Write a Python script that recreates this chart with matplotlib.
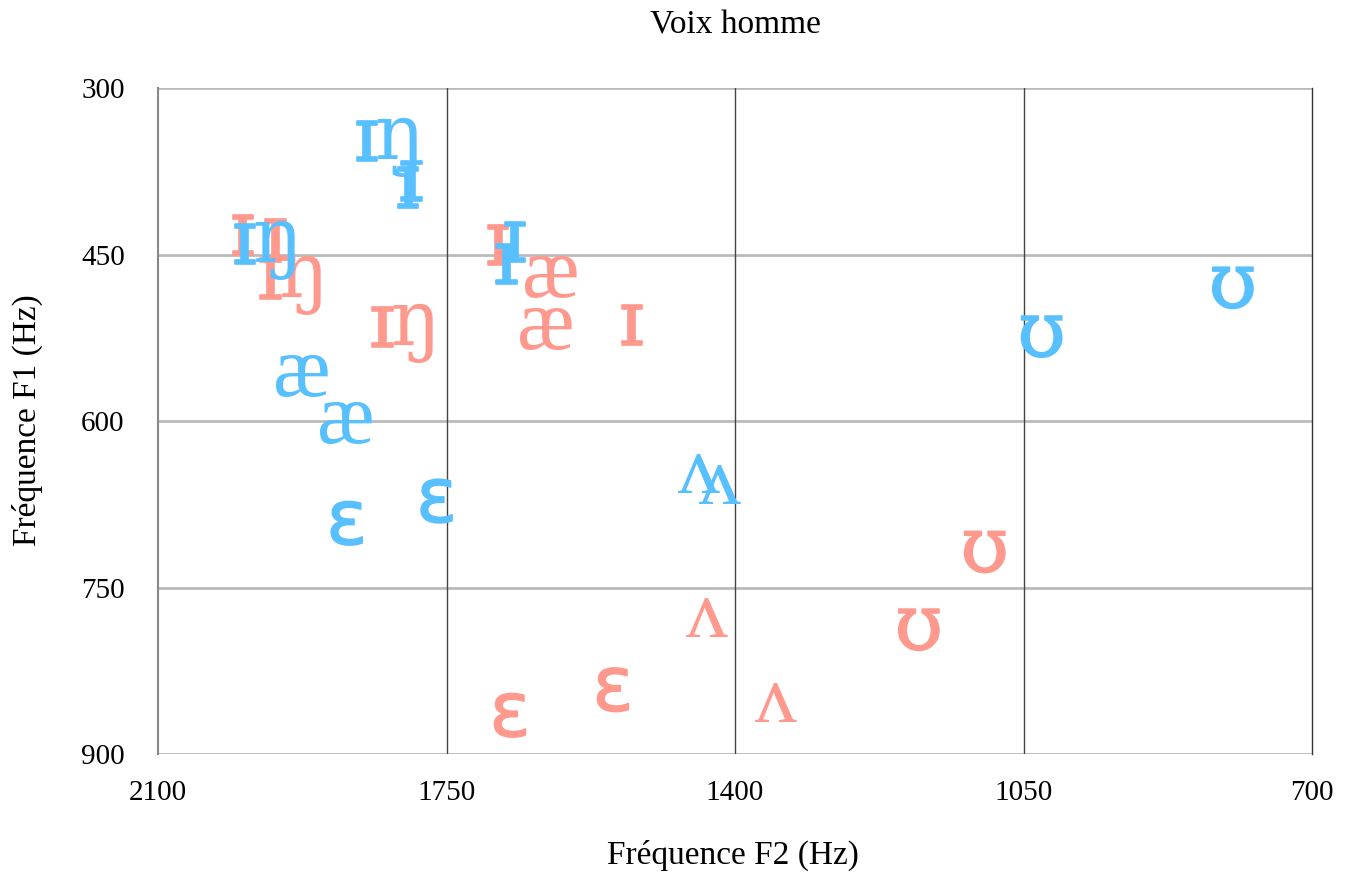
import matplotlib
matplotlib.use("Agg")
import matplotlib.pyplot as plt
import matplotlib.patheffects as pe

plt.rcParams['font.family'] = ['Liberation Serif', 'DejaVu Serif']

# voyelles, voix homme : F2 (x) et F1 (y)
salmon_labels = ["ɪ", "ɪ", "ɪŋ", "ɪŋ", "ɪ", "æ", "æ", "ɪ", "ɛ", "ɛ", "ʌ", "ʌ", "ʊ", "ʊ"]
salmon_f2 = [1998, 1958, 1939, 1803, 1688, 1623, 1630, 1526, 1673, 1548, 1434, 1350, 1097, 1177]
salmon_f1 = [431, 435, 470, 514, 440, 470, 516, 512, 865, 842, 777, 853, 716, 786]

blue_labels = ["ɪŋ", "ɪ", "ɪ", "ɪŋ", "ɪ", "ɪ", "æ", "æ", "ɛ", "ɛ", "ʌ", "ʌ", "ʊ", "ʊ"]
blue_f2 = [1822, 1793, 1797, 1970, 1668, 1678, 1926, 1872, 1871, 1762, 1444, 1418, 1028, 796]
blue_f1 = [346, 382, 388, 439, 437, 457, 559, 601, 692, 672, 647, 657, 522, 478]

x_ticks = [2100, 1750, 1400, 1050, 700]
y_ticks = [300, 450, 600, 750, 900]

salmon = '#FF998D'
blue = '#59C0FF'

# police de chaque symbole : (famille, taille, epaississement)
glyph_style = {
    'ɪ': ('DejaVu Serif', 56, 1.2),
    'ŋ': ('DejaVu Serif', 56, 0),
    'æ': ('Liberation Serif', 62, 0),
    'ɛ': ('DejaVu Sans', 55, 1.0),
    'ʌ': ('Liberation Serif', 60, 0),
    'ʊ': ('DejaVu Serif', 56, 1.0),
}


def draw_symbol(ax, lab, x, y, color):
    if lab == "ɪŋ":
        parts = [('ɪ', -15), ('ŋ', 9)]
    else:
        parts = [(lab, 0)]
    for ch, dx in parts:
        fam, size, stroke = glyph_style[ch]
        t = ax.annotate(ch, (x, y), xytext=(dx, 0), textcoords='offset points',
                        color=color, fontsize=size, family=fam,
                        ha='center', va='center')
        if stroke:
            t.set_path_effects([pe.withStroke(linewidth=stroke, foreground=color)])


fig = plt.figure(figsize=(13.46, 8.73), dpi=100)
ax = fig.add_axes([158/1346, 1 - 754/873, (1312-158)/1346, (754-88)/873])

ax.set_xlim(2100, 700)
ax.set_ylim(900, 300)
ax.set_xticks(x_ticks)
ax.set_yticks(y_ticks)
ax.tick_params(length=0, labelsize=21)
ax.tick_params(axis='y', pad=24)
ax.tick_params(axis='x', pad=19)

for y in y_ticks:
    ax.axhline(y, color='#bbbbbb', lw=2, zorder=0)
for x in x_ticks[1:-1]:
    ax.axvline(x, color='#444444', lw=1, zorder=0)

for s in ['top', 'bottom']:
    ax.spines[s].set_visible(False)
ax.spines['left'].set_color('#888888')
ax.spines['left'].set_linewidth(1.5)
ax.spines['right'].set_color('#333333')
ax.spines['right'].set_linewidth(1)

for lab, x, y in zip(salmon_labels, salmon_f2, salmon_f1):
    draw_symbol(ax, lab, x, y, salmon)
for lab, x, y in zip(blue_labels, blue_f2, blue_f1):
    draw_symbol(ax, lab, x, y, blue)

fig.text(735/1346, 1 - 25/873, "Voix homme", fontsize=24, ha='center', va='center')
fig.text(733/1346, 1 - 855/873, "Fréquence F2 (Hz)", fontsize=24, ha='center', va='center')
fig.text(27/1346, 1 - 420/873, "Fréquence F1 (Hz)", fontsize=24, ha='center', va='center',
         rotation=90)

fig.savefig("out.png", dpi=100)
